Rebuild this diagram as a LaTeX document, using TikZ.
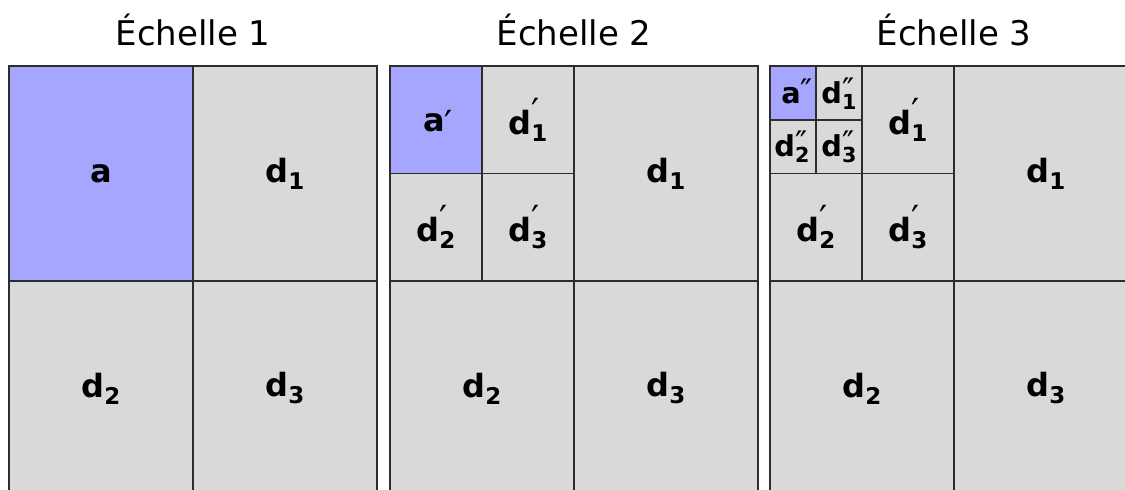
\documentclass[tikz,border=0pt]{standalone}
\usepackage{fontspec}
\setmainfont{DejaVu Sans}
\definecolor{cellblue}{RGB}{166,166,255}
\definecolor{cellgray}{RGB}{217,217,217}
\definecolor{cellline}{RGB}{45,45,45}
% letter with a prime above and an index below
\newcommand\dlab[4][10pt]{#2\rlap{\raisebox{#1}{\fontsize{36}{36}\mdseries#4}}\raisebox{-7pt}{\fontsize{23}{23}\selectfont#3}}

\begin{document}
\begin{tikzpicture}[x=1pt,y=-1pt,
  bluecell/.style={fill=cellblue,draw=cellline,line width=1.5pt},
  graycell/.style={fill=cellgray,draw=cellline,line width=1.5pt},
  title/.style={anchor=base,font=\fontsize{34}{40}\selectfont},
  lbl/.style={font=\fontsize{32}{40}\selectfont\bfseries,inner sep=0pt}]
\useasboundingbox (0,0) rectangle (1125,490);
\clip (0,0) rectangle (1125,490);
% titles
\node[title] (t1) at (193,45) {Échelle 1};
\node[title] (t2) at (574,45) {Échelle 2};
\node[title] (t3) at (954,45) {Échelle 3};
% scale 1
\filldraw[bluecell] (9,66) rectangle ++(184,215);
\foreach \x/\y in {193/66,9/281,193/281}{\filldraw[graycell] (\x,\y) rectangle ++(184,215);}
\node[lbl] (a1) at (101,173.5) {a};
\node[lbl] (d11) at (285,173.5) {\dlab{d}{1}{}};
\node[lbl] (d21) at (101,388.5) {\dlab{d}{2}{}};
\node[lbl] (d31) at (285,388.5) {\dlab{d}{3}{}};
% scale 2
\foreach \x/\y in {574/66,390/281,574/281}{\filldraw[graycell] (\x,\y) rectangle ++(184,215);}
\filldraw[bluecell] (390,66) rectangle ++(92,107.5);
\foreach \x/\y in {482/66,390/173.5,482/173.5}{\filldraw[graycell] (\x,\y) rectangle ++(92,107.5);}
\node[lbl] (ap2) at (434,124) {\dlab[-5pt]{a}{}{′}};
\node[lbl] (dp12) at (528,119.75) {\dlab{d}{1}{′}};
\node[lbl] (dp22) at (436,227.25) {\dlab{d}{2}{′}};
\node[lbl] (dp32) at (528,227.25) {\dlab{d}{3}{′}};
\node[lbl] (d12) at (666,173.5) {\dlab{d}{1}{}};
\node[lbl] (d22) at (482,388.5) {\dlab{d}{2}{}};
\node[lbl] (d32) at (666,388.5) {\dlab{d}{3}{}};
% scale 3
\foreach \x/\y in {954/66,770/281,954/281}{\filldraw[graycell] (\x,\y) rectangle ++(184,215);}
\foreach \x/\y in {862/66,770/173.5,862/173.5}{\filldraw[graycell] (\x,\y) rectangle ++(92,107.5);}
\filldraw[bluecell] (770,66) rectangle ++(46,53.75);
\foreach \x/\y in {816/66,770/119.75,816/119.75}{\filldraw[graycell] (\x,\y) rectangle ++(46,53.75);}
\node[lbl,scale=.9] (app3) at (791,94) {\dlab[1pt]{a}{}{″}};
\node[lbl,scale=.9] (dpp13) at (839,93.5) {\dlab[2pt]{d}{1}{″}};
\node[lbl,scale=.9] (dpp23) at (792,147) {\dlab[2pt]{d}{2}{″}};
\node[lbl,scale=.9] (dpp33) at (839,147) {\dlab[2pt]{d}{3}{″}};
\node[lbl] (dp13) at (908,119.75) {\dlab{d}{1}{′}};
\node[lbl] (dp23) at (816,227.25) {\dlab{d}{2}{′}};
\node[lbl] (dp33) at (908,227.25) {\dlab{d}{3}{′}};
\node[lbl] (d13) at (1046,173.5) {\dlab{d}{1}{}};
\node[lbl] (d23) at (862,388.5) {\dlab{d}{2}{}};
\node[lbl] (d33) at (1046,388.5) {\dlab{d}{3}{}};
\end{tikzpicture}
\end{document}
